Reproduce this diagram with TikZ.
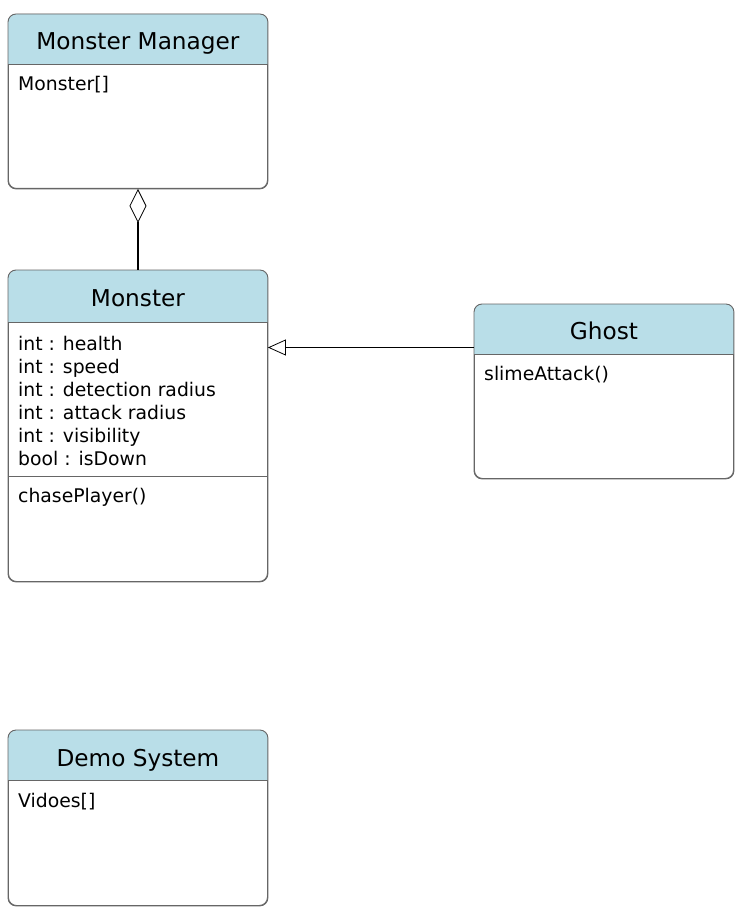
\documentclass[tikz,border=0pt]{standalone}
\usepackage{fontspec}
\setmainfont{DejaVu Sans}
\usetikzlibrary{arrows.meta,calc}
\definecolor{hdrblue}{RGB}{185,222,232}
\definecolor{boxgray}{RGB}{102,102,102}
\tikzset{
  classbox/.style={draw=boxgray, line width=0.9pt, rounded corners=8pt, fill=white, inner sep=0pt, minimum width=259pt, anchor=north west},
  titletext/.style={font=\fontsize{23.2}{28}\selectfont, anchor=base, inner sep=0pt},
  bodytext/.style={font=\fontsize{18.8}{23}\selectfont, anchor=base west, inner sep=0pt, align=left},
  divider/.style={draw=boxgray, line width=0.9pt},
  conn/.style={line width=1.2pt, black}
}
\newcommand{\classhdr}[2]{%
  \begin{scope}
    \clip[rounded corners=8pt] (#1.north west) rectangle (#1.south east);
    \fill[hdrblue] (#1.north west) rectangle ($(#1.north east)+(0,-#2)$);
  \end{scope}
  \draw[classbox, fill=none] (#1.north west) rectangle (#1.south east);
  \draw[divider] ($(#1.north west)+(0,-#2)$) -- ($(#1.north east)+(0,-#2)$);
}
\begin{document}
\begin{tikzpicture}[x=1pt,y=1pt]
\useasboundingbox (0,0) rectangle (745,-917);
\fill[white] (0,0) rectangle (745,-917);

% Monster Manager
\node[classbox, minimum height=174pt] (mm) at (8,-14) {};
\classhdr{mm}{50}
\node[titletext] (mmt) at ($(mm.north)+(0,-36)$) {Monster Manager};
\node[bodytext] (mmb) at ($(mm.north west)+(10,-77)$) {Monster[]};

% Monster
\node[classbox, minimum height=311pt] (mon) at (8,-270) {};
\classhdr{mon}{52}
\draw[divider] ($(mon.north west)+(0,-206)$) -- ($(mon.north east)+(0,-206)$);
\node[titletext] (mont) at ($(mon.north)+(0,-36.5)$) {Monster};
\node[bodytext] (monb) at ($(mon.north west)+(10,-195)$) {int : health\\int : speed\\int : detection radius\\int : attack radius\\int : visibility\\bool : isDown};
\node[bodytext] (monm) at ($(mon.north west)+(10,-232)$) {chasePlayer()};

% Ghost
\node[classbox, minimum height=174pt] (gh) at (474,-304) {};
\classhdr{gh}{50}
\node[titletext] (ght) at ($(gh.north)+(0,-35)$) {Ghost};
\node[bodytext] (ghb) at ($(gh.north west)+(10,-76)$) {slimeAttack()};

% Demo System
\node[classbox, minimum height=175pt] (ds) at (8,-730) {};
\classhdr{ds}{50}
\node[titletext] (dst) at ($(ds.north)+(0,-36)$) {Demo System};
\node[bodytext] (dsb) at ($(ds.north west)+(10,-77)$) {Vidoes[]};

% Aggregation
\draw[conn, {Diamond[open, length=34pt, width=17pt, line width=0.8pt]}-] (mm.south) -- (mon.north);

% Inheritance
\coordinate (g1) at ($(gh.north west)+(0,-43.5)$);
\draw[conn, -{Triangle[open, length=18pt, width=16pt, line width=0.8pt]}] (g1) -- (g1 -| mon.east);
\end{tikzpicture}
\end{document}
